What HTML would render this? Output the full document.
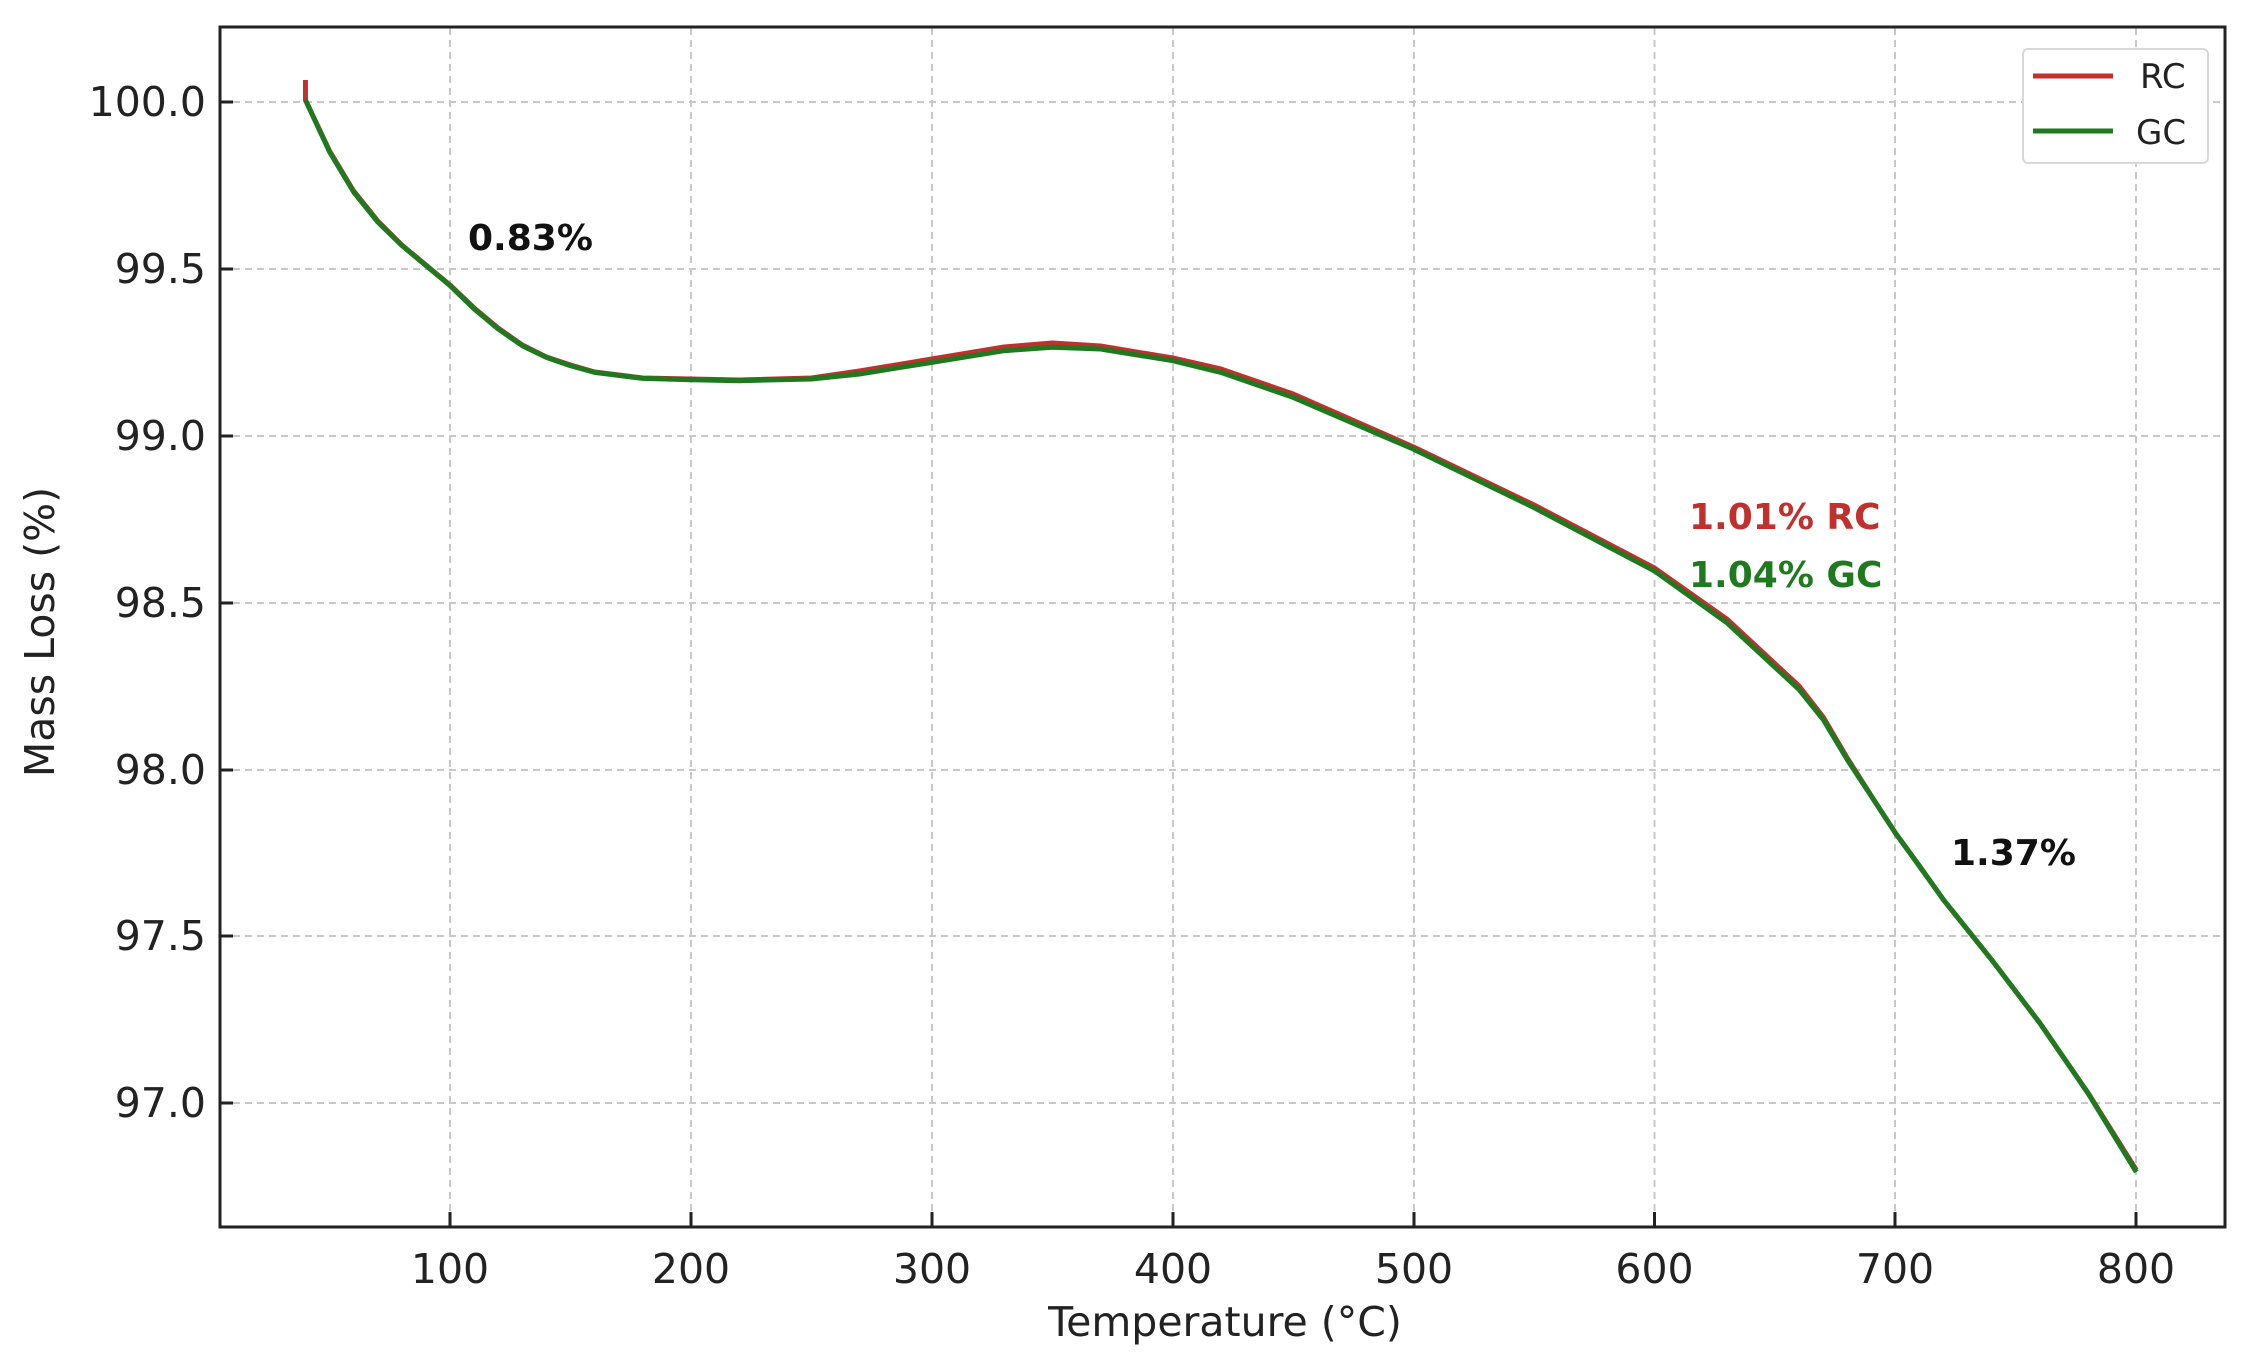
<!DOCTYPE html>
<html><head><meta charset="utf-8"><style>
html,body{margin:0;padding:0;background:#fff;}
svg{display:block;}
text{font-family:"DejaVu Sans","Liberation Sans",sans-serif;}
</style></head><body>
<svg width="2253" height="1364" viewBox="0 0 2253 1364" xmlns="http://www.w3.org/2000/svg">
<rect width="2253" height="1364" fill="#fff"/>
<g stroke="#c8c8c8" stroke-width="2" stroke-dasharray="7,5">
<line x1="450" y1="28" x2="450" y2="1226"/>
<line x1="691" y1="28" x2="691" y2="1226"/>
<line x1="932" y1="28" x2="932" y2="1226"/>
<line x1="1173" y1="28" x2="1173" y2="1226"/>
<line x1="1414" y1="28" x2="1414" y2="1226"/>
<line x1="1654.5" y1="28" x2="1654.5" y2="1226"/>
<line x1="1895" y1="28" x2="1895" y2="1226"/>
<line x1="2136" y1="28" x2="2136" y2="1226"/>
<line x1="221" y1="102" x2="2224" y2="102"/>
<line x1="221" y1="269" x2="2224" y2="269"/>
<line x1="221" y1="436" x2="2224" y2="436"/>
<line x1="221" y1="603" x2="2224" y2="603"/>
<line x1="221" y1="770" x2="2224" y2="770"/>
<line x1="221" y1="936" x2="2224" y2="936"/>
<line x1="221" y1="1103" x2="2224" y2="1103"/>
</g>
<g transform="translate(450,0) scale(0.9934,1) translate(-450,0)">
<polyline fill="none" stroke="#c0302c" stroke-width="5" stroke-linejoin="round" points="304.5,80 304.5,100 328.8,151 353,191 377.3,221 401.5,245 425.8,265 450,285 474.3,308 498.5,328 522.8,345 547,357 571.3,365 595.5,372 644,378 692.5,379 741,380 813.8,378 862.3,371 935,359 1007.8,347 1056.3,343 1104.8,346 1177.5,358 1226,369 1298.8,394 1420,447 1541.3,505 1662.5,568 1735.3,619 1808,686 1832.3,717 1856.5,758 1880.8,796 1905,833 1929.3,866 1953.5,900 2002,960 2050.5,1023 2099,1093 2147.5,1170"/>
<polyline fill="none" stroke="#1f7a1f" stroke-width="5" stroke-linejoin="round" points="304.5,100 328.8,152 353,192 377.3,222 401.5,245.5 425.8,265.6 450,285.6 474.3,309 498.5,329 522.8,345.7 547,357.4 571.3,365.7 595.5,372.4 644,378.4 692.5,379.7 741,380.7 813.8,379 862.3,374 935,362.4 1007.8,350.7 1056.3,347.3 1104.8,349 1177.5,360.7 1226,372.4 1298.8,397.4 1420,449.2 1541.3,507.6 1662.5,571 1735.3,622.7 1808,689.5 1832.3,719.5 1856.5,759.6 1880.8,796.3 1905,833 1929.3,866.4 1953.5,899.8 2002,959.9 2050.5,1023.3 2099,1093.4 2147.5,1172"/>
</g>
<rect x="220" y="27" width="2005" height="1200" fill="none" stroke="#222" stroke-width="3"/>
<g stroke="#222" stroke-width="3">
<line x1="450" y1="1226" x2="450" y2="1212"/><line x1="691" y1="1226" x2="691" y2="1212"/>
<line x1="932" y1="1226" x2="932" y2="1212"/><line x1="1173" y1="1226" x2="1173" y2="1212"/>
<line x1="1414" y1="1226" x2="1414" y2="1212"/><line x1="1654.5" y1="1226" x2="1654.5" y2="1212"/>
<line x1="1895" y1="1226" x2="1895" y2="1212"/><line x1="2136" y1="1226" x2="2136" y2="1212"/>
<line x1="221" y1="102" x2="233" y2="102"/><line x1="221" y1="269" x2="233" y2="269"/>
<line x1="221" y1="436" x2="233" y2="436"/><line x1="221" y1="603" x2="233" y2="603"/>
<line x1="221" y1="770" x2="233" y2="770"/><line x1="221" y1="936" x2="233" y2="936"/>
<line x1="221" y1="1103" x2="233" y2="1103"/>
</g>
<g font-size="41" fill="#222" text-anchor="end">
<text x="206" y="116">100.0</text><text x="206" y="283">99.5</text><text x="206" y="450">99.0</text>
<text x="206" y="617">98.5</text><text x="206" y="784">98.0</text><text x="206" y="950">97.5</text>
<text x="206" y="1117">97.0</text>
</g>
<g font-size="41" fill="#222" text-anchor="middle">
<text x="450" y="1283">100</text><text x="691" y="1283">200</text><text x="932" y="1283">300</text>
<text x="1173" y="1283">400</text><text x="1414" y="1283">500</text><text x="1654.5" y="1283">600</text>
<text x="1895" y="1283">700</text><text x="2136" y="1283">800</text>
<text x="1225" y="1336">Temperature (°C)</text>
<text transform="translate(54,632) rotate(-90)">Mass Loss (%)</text>
</g>
<g font-size="36" font-weight="bold">
<text x="468" y="250" fill="#111">0.83%</text>
<text x="1689" y="529" fill="#c0302c">1.01% RC</text>
<text x="1689" y="587" fill="#1f7a1f">1.04% GC</text>
<text x="1951" y="865" fill="#111">1.37%</text>
</g>
<rect x="2023" y="49" width="185" height="114" rx="5" fill="#fff" stroke="#d8d8d8" stroke-width="2"/>
<line x1="2033" y1="76" x2="2113" y2="76" stroke="#c0302c" stroke-width="5"/>
<line x1="2033" y1="131" x2="2113" y2="131" stroke="#1f7a1f" stroke-width="5"/>
<g font-size="34" fill="#222"><text x="2140" y="88">RC</text><text x="2136" y="144">GC</text></g>
</svg>
</body></html>
